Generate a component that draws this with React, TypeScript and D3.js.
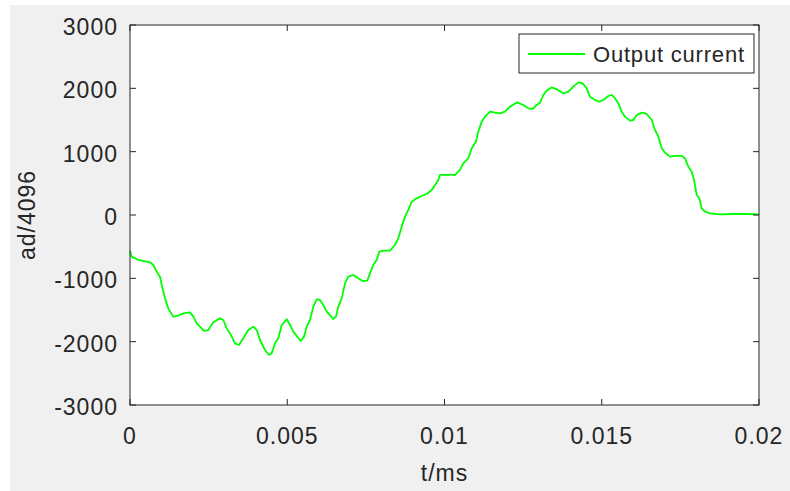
import React, { useRef, useEffect } from "react";
import * as d3 from "d3";

// sampled output current (t in s, value in ad/4096)
const timeS = [
  0, 0.000054, 0.000264, 0.000636, 0.000741, 0.000849, 0.000954, 0.001008, 0.001113, 0.001218,
  0.001377, 0.001536, 0.001695, 0.001908, 0.002013, 0.002121, 0.002226, 0.002353, 0.00249, 0.002649,
  0.002862, 0.002967, 0.003075, 0.003212, 0.003339, 0.003466, 0.003603, 0.003762, 0.003921, 0.004029,
  0.004134, 0.004293, 0.00442, 0.004506, 0.004611, 0.004716, 0.004824, 0.004983, 0.005088, 0.005193,
  0.0053, 0.005428, 0.005533, 0.005619, 0.005723, 0.005828, 0.005937, 0.006041, 0.006146, 0.006255,
  0.006359, 0.006464, 0.00655, 0.006623, 0.006731, 0.006836, 0.006941, 0.0071, 0.007259, 0.007399,
  0.007545, 0.007631, 0.007736, 0.007844, 0.007927, 0.008054, 0.008267, 0.008426, 0.008531, 0.008639,
  0.008744, 0.008849, 0.008957, 0.009116, 0.009275, 0.009434, 0.009593, 0.009698, 0.009803, 0.009857,
  0.010334, 0.010493, 0.010598, 0.010757, 0.010865, 0.011002, 0.011075, 0.011183, 0.011288, 0.011447,
  0.011606, 0.011765, 0.011924, 0.012083, 0.012315, 0.012506, 0.012665, 0.012805, 0.012932, 0.013037,
  0.013142, 0.01325, 0.013409, 0.013568, 0.013778, 0.013937, 0.014096, 0.014255, 0.014395, 0.014522,
  0.014627, 0.014786, 0.014923, 0.01505, 0.015209, 0.015317, 0.015422, 0.015527, 0.015635, 0.01574,
  0.015899, 0.016004, 0.016112, 0.016271, 0.01643, 0.016589, 0.016694, 0.016799, 0.016907, 0.017012,
  0.017171, 0.01733, 0.017543, 0.017648, 0.017753, 0.017861, 0.017934, 0.01802, 0.018103, 0.018179,
  0.018284, 0.018443, 0.018761, 0.019184, 0.019609, 0.02,
];

const current = [
  -568, -658, -710, -747, -790, -895, -974, -1105, -1316, -1474,
  -1605, -1590, -1553, -1537, -1605, -1711, -1763, -1831, -1816, -1695,
  -1632, -1658, -1790, -1895, -2026, -2053, -1947, -1816, -1763, -1816,
  -1974, -2132, -2210, -2184, -2026, -1947, -1737, -1647, -1737, -1842,
  -1910, -1990, -1921, -1763, -1658, -1447, -1332, -1342, -1421, -1526,
  -1579, -1642, -1605, -1447, -1316, -1079, -974, -947, -1000, -1042,
  -1037, -921, -790, -711, -579, -563, -563, -474, -368, -184,
  -26, 79, 211, 263, 300, 332, 395, 474, 553, 632,
  632, 711, 816, 895, 1053, 1158, 1316, 1474, 1553, 1632,
  1616, 1605, 1632, 1711, 1779, 1737, 1684, 1674, 1737, 1774,
  1895, 1963, 2016, 1984, 1921, 1947, 2026, 2095, 2079, 2000,
  1868, 1816, 1790, 1816, 1879, 1895, 1842, 1763, 1632, 1553,
  1490, 1500, 1579, 1616, 1595, 1500, 1342, 1237, 1053, 984,
  921, 932, 932, 895, 763, 684, 553, 316, 263, 105,
  53, 26, 11, 16, 16, 11,
];

const xTicks = [0, 0.005, 0.01, 0.015, 0.02];
const xTickLabels = ["0", "0.005", "0.01", "0.015", "0.02"];
const yTicks = [-3000, -2000, -1000, 0, 1000, 2000, 3000];
const seriesName = "Output current";

export default function App() {
  const svgRef = useRef<SVGSVGElement>(null);

  useEffect(() => {
    const svg = d3.select(svgRef.current);
    svg.selectAll("*").remove();

    const W = 790, H = 491;
    const plot = { left: 130, right: 759, top: 25, bottom: 405 };
    const axisColor = "#262626";
    const font = "'Liberation Sans', Arial, Helvetica, sans-serif";

    // figure background
    svg.append("rect").attr("x", 10).attr("y", 5).attr("width", W - 10).attr("height", H - 5).attr("fill", "#f0f0f0");

    const x = d3.scaleLinear().domain([0, 0.02]).range([plot.left, plot.right]);
    const y = d3.scaleLinear().domain([-3000, 3000]).range([plot.bottom, plot.top]);

    // axes area
    svg.append("rect")
      .attr("x", plot.left).attr("y", plot.top)
      .attr("width", plot.right - plot.left).attr("height", plot.bottom - plot.top)
      .attr("fill", "white");

    // data line
    const pts = timeS.map((t, i) => [t, current[i]] as [number, number]);
    const line = d3.line<[number, number]>().x((d) => x(d[0])).y((d) => y(d[1]));
    svg.append("path")
      .datum(pts)
      .attr("d", line)
      .attr("fill", "none")
      .attr("stroke", "#00ff00")
      .attr("stroke-width", 1.8)
      .attr("stroke-linejoin", "round");

    // box
    svg.append("rect")
      .attr("x", plot.left).attr("y", plot.top)
      .attr("width", plot.right - plot.left).attr("height", plot.bottom - plot.top)
      .attr("fill", "none").attr("stroke", axisColor).attr("stroke-width", 1);

    const tickLen = 6;
    // x ticks (bottom and top, inward)
    xTicks.forEach((t, i) => {
      const px = x(t);
      svg.append("line").attr("x1", px).attr("x2", px).attr("y1", plot.bottom).attr("y2", plot.bottom - tickLen).attr("stroke", axisColor);
      svg.append("line").attr("x1", px).attr("x2", px).attr("y1", plot.top).attr("y2", plot.top + tickLen).attr("stroke", axisColor);
      svg.append("text")
        .attr("x", px).attr("y", 444)
        .attr("text-anchor", "middle")
        .attr("font-family", font).attr("font-size", 23)
        .attr("letter-spacing", 1)
        .attr("fill", axisColor)
        .text(xTickLabels[i]);
    });

    // y ticks (left and right, inward)
    yTicks.forEach((v) => {
      const py = y(v);
      svg.append("line").attr("x1", plot.left).attr("x2", plot.left + tickLen).attr("y1", py).attr("y2", py).attr("stroke", axisColor);
      svg.append("line").attr("x1", plot.right).attr("x2", plot.right - tickLen).attr("y1", py).attr("y2", py).attr("stroke", axisColor);
      svg.append("text")
        .attr("x", 118).attr("y", py + 10)
        .attr("text-anchor", "end")
        .attr("font-family", font).attr("font-size", 23)
        .attr("letter-spacing", 1)
        .attr("fill", axisColor)
        .text(String(v));
    });

    // axis labels
    svg.append("text")
      .attr("x", (plot.left + plot.right) / 2).attr("y", 481)
      .attr("text-anchor", "middle")
      .attr("font-family", font).attr("font-size", 23)
      .attr("letter-spacing", 1)
      .attr("fill", axisColor)
      .text("t/ms");

    svg.append("text")
      .attr("transform", `translate(35,${(plot.top + plot.bottom) / 2}) rotate(-90)`)
      .attr("text-anchor", "middle")
      .attr("font-family", font).attr("font-size", 23)
      .attr("letter-spacing", 1)
      .attr("fill", axisColor)
      .text("ad/4096");

    // legend
    const lg = svg.append("g");
    lg.append("rect")
      .attr("x", 519).attr("y", 34).attr("width", 235).attr("height", 39)
      .attr("fill", "white").attr("stroke", axisColor).attr("stroke-width", 1);
    lg.append("line")
      .attr("x1", 528).attr("x2", 585).attr("y1", 54).attr("y2", 54)
      .attr("stroke", "#00ff00").attr("stroke-width", 1.8);
    lg.append("text")
      .attr("x", 593).attr("y", 62)
      .attr("font-family", font).attr("font-size", 22)
      .attr("letter-spacing", 0.8)
      .attr("fill", axisColor)
      .text(seriesName);
  }, []);

  return (
    <svg
      ref={svgRef}
      width={790}
      height={491}
      style={{ position: "absolute", left: 0, top: 0, background: "white" }}
    />
  );
}
